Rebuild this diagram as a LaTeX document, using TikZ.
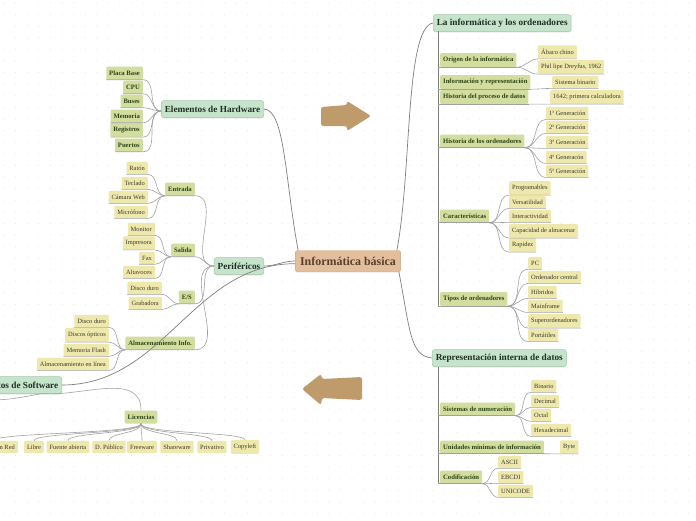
\documentclass[tikz,border=0pt]{standalone}
\usepackage{fontspec}
\setmainfont{Liberation Serif}
\usepackage{xcolor}
\usepackage{tikz}
\usetikzlibrary{shadows}

\definecolor{rootfill}{HTML}{E2BE9C}
\definecolor{rootedge}{HTML}{CDA582}
\definecolor{roottext}{HTML}{5A3F2C}
\definecolor{topicfill}{HTML}{C6E4CC}
\definecolor{topicedge}{HTML}{A6C8AC}
\definecolor{topictext}{HTML}{1F2E22}
\definecolor{subfill}{HTML}{D4DDA0}
\definecolor{subtext}{HTML}{2C4415}
\definecolor{leaffill}{HTML}{EEE8AC}
\definecolor{leaftext}{HTML}{3B3A2E}
\definecolor{linkgray}{HTML}{A0A0A0}
\definecolor{mainlinkgray}{HTML}{808080}
\definecolor{arrowtan}{HTML}{BF9A6A}
\definecolor{dotgray}{HTML}{E2E2E2}

\begin{document}
\begin{tikzpicture}[x=0.03cm, y=-0.03cm,
    rootbox/.style={rectangle, rounded corners=2pt, draw=rootedge, fill=rootfill, text=roottext,
                    font=\fontsize{10.2}{11}\selectfont\bfseries, minimum height=0.63cm, inner xsep=4pt,
                    drop shadow={shadow xshift=0pt, shadow yshift=-0.8pt, opacity=0.3}},
    topicbox/.style={rectangle, rounded corners=2pt, draw=topicedge, fill=topicfill, text=topictext,
                     font=\fontsize{7.9}{9}\selectfont\bfseries, minimum height=0.5cm, inner xsep=3pt,
                     drop shadow={shadow xshift=0pt, shadow yshift=-0.8pt, opacity=0.3}},
    subbox/.style={rectangle, rounded corners=1pt, fill=subfill, text=subtext,
                   font=\fontsize{5.7}{6}\selectfont\bfseries, minimum height=0.39cm, inner xsep=2.5pt},
    leafbox/.style={rectangle, rounded corners=1pt, fill=leaffill, text=leaftext,
                    font=\fontsize{5.5}{6}\selectfont, minimum height=0.36cm, inner xsep=2.5pt},
    link/.style={draw=linkgray, line width=0.5pt},
    mainlink/.style={draw=mainlinkgray, line width=0.6pt},
    bigarrow/.style={fill=arrowtan, rounded corners=2pt}
]

\useasboundingbox (0,0) rectangle (696,520);
\clip (0,0) rectangle (696,520);
\fill[white] (0,0) rectangle (696,520);
\foreach \i in {0,...,60}
    \foreach \j in {0,...,45}
        \fill[dotgray] (4+\i*11.6,3+\j*11.6) circle (0.45pt);

\fill[bigarrow] (321,107) -- (347,105) -- (347,101) -- (371,116) -- (347,131) -- (347,126) -- (321,126) -- cycle;
\fill[bigarrow] (362,377) -- (322,379) -- (321,374) -- (302,389) -- (321,405) -- (322,398) -- (362,400) -- cycle;

\node[rootbox] (Root) at (348,261) {Informática básica};

\node[topicbox, anchor=west] (InfoOrd) at (433,23) {La informática y los ordenadores};
\node[topicbox, anchor=west] (RepInterna) at (432,358) {Representación interna de datos};
\node[topicbox, anchor=east] (Hardware) at (264,109) {Elementos de Hardware};
\node[topicbox, anchor=east] (Perif) at (264,266) {Periféricos};
\node[topicbox, anchor=east] (Software) at (62,385) {Elementos de Software};

\node[subbox, anchor=west] (Origen) at (440,60) {Origen de la informática};
\node[subbox, anchor=west] (InfoRep) at (440,82) {Información y representación};
\node[subbox, anchor=west] (HistProc) at (440,97) {Historia del proceso de datos};
\node[subbox, anchor=west] (HistOrd) at (440,141) {Historia de los ordenadores};
\node[subbox, anchor=west] (Caract) at (440,216) {Características};
\node[subbox, anchor=west] (Tipos) at (440,299) {Tipos de ordenadores};

\node[leafbox, anchor=west] (Abaco) at (538,52) {Ábaco chino};
\node[leafbox, anchor=west] (Dreyfus) at (538,67) {Phil lipe Dreyfus, 1962};
\node[leafbox, anchor=west] (SisBin) at (552,82) {Sistema binario};
\node[leafbox, anchor=west] (Calc) at (550,97) {1642; primera calculadora};
\node[leafbox, anchor=west] (GenA) at (546,113) {1ª Generación};
\node[leafbox, anchor=west] (GenB) at (546,127) {2ª Generación};
\node[leafbox, anchor=west] (GenC) at (546,142) {3ª Generación};
\node[leafbox, anchor=west] (GenD) at (546,157) {4ª Generacón};
\node[leafbox, anchor=west] (GenE) at (546,171) {5ª Generación};
\node[leafbox, anchor=west] (Program) at (509,188) {Programables};
\node[leafbox, anchor=west] (Versat) at (509,202) {Versatilidad};
\node[leafbox, anchor=west] (Interact) at (509,216) {Interactividad};
\node[leafbox, anchor=west] (Capac) at (509,231) {Capacidad de almacenar};
\node[leafbox, anchor=west] (Rapidez) at (509,245) {Rapidez};
\node[leafbox, anchor=west] (PC) at (528,263) {PC};
\node[leafbox, anchor=west] (OrdCentral) at (528,277) {Ordenador central};
\node[leafbox, anchor=west] (Hibridos) at (528,292) {Híbridos};
\node[leafbox, anchor=west] (Mainframe) at (528,306) {Mainframe};
\node[leafbox, anchor=west] (Superord) at (528,321) {Superordenadores};
\node[leafbox, anchor=west] (Portatiles) at (528,335) {Portátiles};

\node[subbox, anchor=west] (SisNum) at (440,409) {Sistemas de numeración};
\node[subbox, anchor=west] (Unidades) at (440,447) {Unidades mínimas de información};
\node[subbox, anchor=west] (Codif) at (440,477) {Codificación};

\node[leafbox, anchor=west] (Binario) at (531,386) {Binario};
\node[leafbox, anchor=west] (Decimal) at (531,401) {Decimal};
\node[leafbox, anchor=west] (Octal) at (531,415) {Octal};
\node[leafbox, anchor=west] (Hexa) at (531,430) {Hexadecimal};
\node[leafbox, anchor=west] (Byte) at (560,447) {Byte};
\node[leafbox, anchor=west] (Ascii) at (498,462) {ASCII};
\node[leafbox, anchor=west] (Ebcdi) at (498,477) {EBCDI};
\node[leafbox, anchor=west] (Unicode) at (498,491) {UNICODE};

\node[subbox, anchor=east] (PlacaBase) at (143,73) {Placa Base};
\node[subbox, anchor=east] (Cpu) at (143,87) {CPU};
\node[subbox, anchor=east] (Buses) at (143,101) {Buses};
\node[subbox, anchor=east] (Memoria) at (143,116) {Memoria};
\node[subbox, anchor=east] (Registros) at (143,130) {Registros};
\node[subbox, anchor=east] (Puertos) at (143,145) {Puertos};

\node[subbox, anchor=east] (Entrada) at (195,189) {Entrada};
\node[subbox, anchor=east] (Salida) at (195,250) {Salida};
\node[subbox, anchor=east] (ES) at (195,297) {E/S};
\node[subbox, anchor=east] (Almac) at (195,343) {Almacenamiento Info.};

\node[leafbox, anchor=east] (Raton) at (148,168) {Ratón};
\node[leafbox, anchor=east] (Teclado) at (148,183) {Teclado};
\node[leafbox, anchor=east] (Camara) at (148,197) {Cámara Web};
\node[leafbox, anchor=east] (Microfono) at (148,212) {Micrófono};
\node[leafbox, anchor=east] (Monitor) at (155,229) {Monitor};
\node[leafbox, anchor=east] (Impresora) at (155,243) {Impresora};
\node[leafbox, anchor=east] (Fax) at (155,258) {Fax};
\node[leafbox, anchor=east] (Altavoces) at (155,272) {Altavoces};
\node[leafbox, anchor=east] (DiscoES) at (162,288) {Disco duro};
\node[leafbox, anchor=east] (Grabadora) at (162,303) {Grabadora};
\node[leafbox, anchor=east] (DiscoAl) at (109,321) {Disco duro};
\node[leafbox, anchor=east] (Opticos) at (109,335) {Discos ópticos};
\node[leafbox, anchor=east] (Flash) at (109,350) {Memoria Flash};
\node[leafbox, anchor=east] (Linea) at (109,364) {Almacenamiento en línea};

\node[subbox] (Licencias) at (141,417) {Licencias};
\node[leafbox, anchor=east] (EnRed) at (18,447) {Licencia en Red};
\node[leafbox] (Libre) at (34,447) {Libre};
\node[leafbox] (Fuente) at (68,447) {Fuente abierta};
\node[leafbox] (Publico) at (109,447) {D. Público};
\node[leafbox] (Freeware) at (142,447) {Freeware};
\node[leafbox] (Shareware) at (177,447) {Shareware};
\node[leafbox] (Privativo) at (212,447) {Privativo};
\node[leafbox] (Copyleft) at (245,447) {Copyleft};

\coordinate (TrunkA) at (438,31);
\coordinate (TrunkB) at (438,367);
\coordinate (SoftOff) at (-10,400);

\draw[mainlink] ([xshift=-0.12cm]Root.north east) .. controls (412,170) and (405,28) .. (InfoOrd.west);
\draw[mainlink] ([xshift=-0.06cm]Root.south east) .. controls (410,330) and (410,356) .. (RepInterna.west);
\draw[mainlink] ([xshift=0.09cm]Root.north west) .. controls (285,180) and (285,110) .. (Hardware.east);
\draw[mainlink] (Root.west) to[out=180, in=0] (Perif.east);
\draw[mainlink] ([yshift=-0.08cm]Root.west) to[out=180, in=0] (Software.east);

\draw[mainlink] (TrunkA) -- (TrunkA |- Tipos.south);
\draw[mainlink] (TrunkB) -- (TrunkB |- Codif.south);
\foreach \s in {Origen, InfoRep, HistProc, HistOrd, Caract, Tipos}
    \draw[link] (TrunkA |- \s.south) -- (\s.south east);
\foreach \s in {SisNum, Unidades, Codif}
    \draw[link] (TrunkB |- \s.south) -- (\s.south east);

\foreach \p/\c in {Origen/Abaco, Origen/Dreyfus, InfoRep/SisBin, HistProc/Calc,
                   HistOrd/GenA, HistOrd/GenB, HistOrd/GenC, HistOrd/GenD, HistOrd/GenE,
                   Caract/Program, Caract/Versat, Caract/Interact, Caract/Capac, Caract/Rapidez,
                   Tipos/PC, Tipos/OrdCentral, Tipos/Hibridos, Tipos/Mainframe, Tipos/Superord, Tipos/Portatiles,
                   SisNum/Binario, SisNum/Decimal, SisNum/Octal, SisNum/Hexa, Unidades/Byte,
                   Codif/Ascii, Codif/Ebcdi, Codif/Unicode}
    \draw[link] (\p.south east) to[out=0, in=180] (\c.south west) -- (\c.south east);

\foreach \c in {PlacaBase, Cpu, Buses, Memoria, Registros, Puertos}
    \draw[link] ([yshift=-0.06cm]Hardware.west) to[out=180, in=0] (\c.south east) -- (\c.south west);
\foreach \c in {Entrada, Salida, ES, Almac}
    \draw[link] (Perif.west) to[out=180, in=0] (\c.south east) -- (\c.south west);

\foreach \p/\c in {Entrada/Raton, Entrada/Teclado, Entrada/Camara, Entrada/Microfono,
                   Salida/Monitor, Salida/Impresora, Salida/Fax, Salida/Altavoces,
                   ES/DiscoES, ES/Grabadora,
                   Almac/DiscoAl, Almac/Opticos, Almac/Flash, Almac/Linea}
    \draw[link] (\p.south west) to[out=180, in=0] (\c.south east) -- (\c.south west);

\draw[link] ([xshift=-0.6cm]Software.south east) to[out=-5, in=90] (Licencias.north);
\draw[link] ([xshift=-0.6cm]Software.south east) to[out=190, in=0] (SoftOff);
\foreach \c in {EnRed, Libre, Fuente, Publico, Freeware, Shareware, Privativo, Copyleft}
    \draw[link] (Licencias.south) .. controls +(0,10) and +(0,-8) .. (\c.north);

\end{tikzpicture}
\end{document}
